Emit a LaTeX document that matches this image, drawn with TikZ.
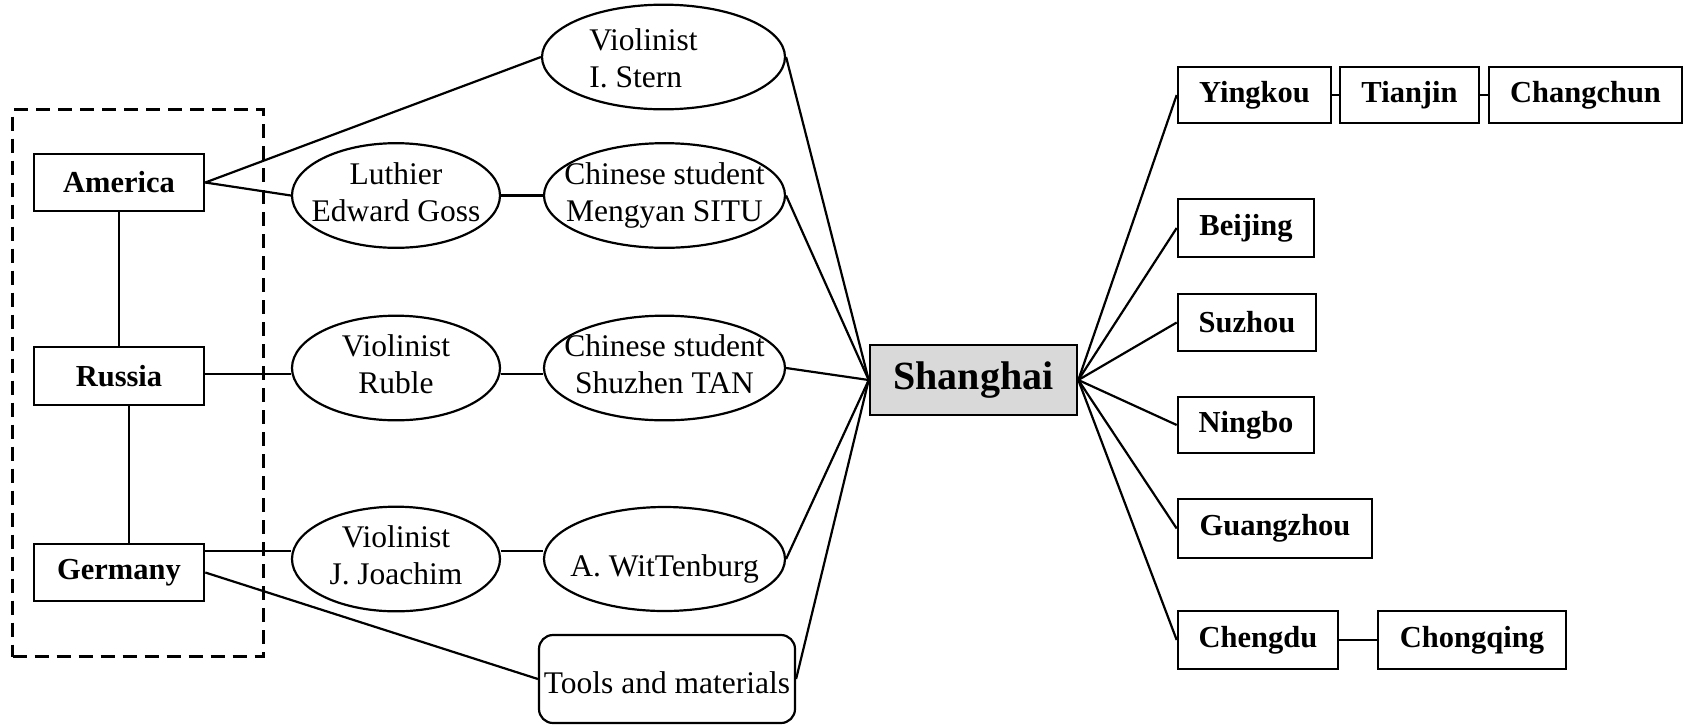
\documentclass[tikz,border=0pt]{standalone}
\usepackage{fontspec}
\setmainfont{Liberation Serif}
\usetikzlibrary{shapes.geometric}
\definecolor{shfill}{RGB}{217,217,217}
\newcommand\ovtxt[1]{\makebox[0pt]{\begin{tabular}{@{}c@{}}#1\end{tabular}}}
\begin{document}
\begin{tikzpicture}[x=1pt,y=-1pt,
  box/.style={draw, line width=2.6pt, rectangle, inner sep=0pt, font=\fontsize{30.5}{36}\selectfont\bfseries},
  oval/.style={draw, line width=2.2pt, ellipse, inner sep=0pt, font=\fontsize{31.5}{37}\selectfont},
  link/.style={line width=2.2pt},
  vlink/.style={line width=1.7pt},
  frame/.style={draw, dash pattern=on 14pt off 8pt, line width=3.3pt, rectangle, inner sep=0pt}]
\useasboundingbox (0,0) rectangle (1684,724);

% grouping frame
\node[frame, minimum width=251pt, minimum height=547pt] (grp) at (138,383) {};

% countries
\node[box, minimum width=170pt, minimum height=57pt] (am) at (119,182.5) {America};
\node[box, minimum width=170pt, minimum height=58pt] (ru) at (119,376) {Russia};
\node[box, minimum width=170pt, minimum height=57pt] (ge) at (119,572.5) {Germany};

% ellipses
\node[oval, minimum width=243pt, minimum height=102pt] (st) at (663.5,57)
  {\makebox[0pt]{\raisebox{-5pt}[\height][\depth]{\begin{tabular}{@{}l@{}}Violinist\\I. Stern\end{tabular}}\hspace{40pt}}};
\node[oval, minimum width=208pt, minimum height=103pt] (lu) at (396,195.5) {\ovtxt{Luthier\\Edward Goss}};
\node[oval, minimum width=241pt, minimum height=103pt] (mg) at (664.5,195.5) {\ovtxt{Chinese student\\Mengyan SITU}};
\node[oval, minimum width=208pt, minimum height=104pt] (rb) at (396,368) {\ovtxt{Violinist\\Ruble}};
\node[oval, minimum width=241pt, minimum height=104pt] (tn) at (664.5,368) {\ovtxt{Chinese student\\Shuzhen TAN}};
\node[oval, minimum width=208pt, minimum height=104pt] (jo) at (396,559) {\ovtxt{Violinist\\J. Joachim}};
\node[oval, minimum width=241pt, minimum height=104pt] (wt) at (664.5,559)
  {\makebox[0pt]{\raisebox{-17pt}[0pt][0pt]{A. WitTenburg}}};
\node[draw, line width=2.2pt, rounded corners=14pt, inner sep=0pt, minimum width=256pt, minimum height=88pt,
      font=\fontsize{31.5}{37}\selectfont] (tl) at (667,679)
  {\makebox[0pt]{\raisebox{-14pt}[0pt][0pt]{Tools and materials}}};

% Shanghai
\node[box, fill=shfill, minimum width=207pt, minimum height=70pt, font=\fontsize{40}{48}\selectfont\bfseries] (sh) at (973.5,380) {Shanghai};

% cities
\node[box, minimum width=153pt, minimum height=56pt] (yk) at (1254.5,95) {Yingkou};
\node[box, minimum width=139pt, minimum height=56pt] (tj) at (1409.5,95) {Tianjin};
\node[box, minimum width=193pt, minimum height=56pt] (cc) at (1585.5,95) {Changchun};
\node[box, minimum width=136pt, minimum height=58pt] (bj) at (1246,228) {Beijing};
\node[box, minimum width=138pt, minimum height=57pt] (sz) at (1247,322.5) {Suzhou};
\node[box, minimum width=136pt, minimum height=56pt] (nb) at (1246,425) {Ningbo};
\node[box, minimum width=194pt, minimum height=59pt] (gz) at (1275,528.5) {Guangzhou};
\node[box, minimum width=160pt, minimum height=58pt] (cd) at (1258,640) {Chengdu};
\node[box, minimum width=188pt, minimum height=58pt] (cq) at (1472,640) {Chongqing};

% helper coordinates
\coordinate (rl) at ([yshift=2pt]ru.east);
\coordinate (gl) at ([yshift=-8pt]ge.north east);
\coordinate (rs) at ([xshift=10pt]ru.south);

% left connectors
\draw[vlink] (am.south) -- (ru.north);
\draw[vlink] (rs) -- (rs |- ge.north);
\draw[link] (am.east) -- (st.west);
\draw[link] (am.east) -- (lu.west);
\draw[link] (lu.east) -- (mg.west);
\draw[link] (rl) -- (rl -| rb.west);
\draw[link] (rl -| rb.east) -- (rl -| tn.west);
\draw[link] (gl) -- (gl -| jo.west);
\draw[link] (gl -| jo.east) -- (gl -| wt.west);
\draw[link] (ge.east) -- (tl.west);

% into Shanghai
\draw[link] (st.east) -- (sh.west);
\draw[link] (mg.east) -- (sh.west);
\draw[link] (tn.east) -- (sh.west);
\draw[link] (wt.east) -- (sh.west);
\draw[link] (tl.east) -- (sh.west);

% out of Shanghai
\draw[link] (sh.east) -- (yk.west);
\draw[link] (sh.east) -- (bj.west);
\draw[link] (sh.east) -- (sz.west);
\draw[link] (sh.east) -- (nb.west);
\draw[link] (sh.east) -- (gz.west);
\draw[link] (sh.east) -- (cd.west);
\draw[link] (yk.east) -- (tj.west);
\draw[link] (tj.east) -- (cc.west);
\draw[link] (cd.east) -- (cq.west);
\end{tikzpicture}
\end{document}
